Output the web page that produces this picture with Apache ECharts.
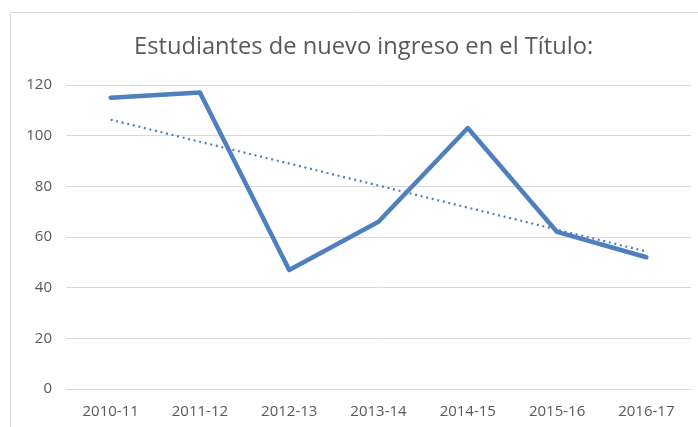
<!DOCTYPE html>
<html><head><meta charset="utf-8">
<script src="https://cdn.jsdelivr.net/npm/echarts@6/dist/echarts.min.js"></script>
<style>html,body{margin:0;padding:0;background:#fff}#c{width:698px;height:427px}</style>
</head><body><div id="c"></div>
<script>
const categories = ['2010-11','2011-12','2012-13','2013-14','2014-15','2015-16','2016-17'];
const values = [115, 117, 47, 66, 103, 62, 52];
const trend = [106.3, 97.6, 89.0, 80.3, 71.6, 62.9, 54.3];
const yTicks = [0, 20, 40, 60, 80, 100, 120];
const titleText = 'Estudiantes de nuevo ingreso en el Título:';

const chart = echarts.init(document.getElementById('c'), null, {renderer: 'canvas'});
chart.setOption({
  animation: false,
  backgroundColor: '#fff',
  title: {
    text: titleText, left: 129, top: 30,
    textStyle: {fontFamily: 'Open Sans', fontSize: 23.7, fontWeight: 'normal', color: '#595959'}
  },
  graphic: [{
    type: 'rect', silent: true,
    shape: {x: 10.5, y: 12.5, width: 700, height: 430},
    style: {fill: null, stroke: '#d9d9d9', lineWidth: 1}
  }],
  grid: {left: 66, right: 7, top: 85, bottom: 38, containLabel: false},
  xAxis: {
    type: 'category', data: categories, boundaryGap: true,
    axisLine: {show: true, lineStyle: {color: '#d9d9d9', width: 1}},
    axisTick: {show: false},
    axisLabel: {color: '#595959', fontFamily: 'Open Sans', fontSize: 15, margin: 15}
  },
  yAxis: {
    type: 'value', min: yTicks[0], max: yTicks[yTicks.length-1], interval: 20,
    axisLine: {show: false}, axisTick: {show: false},
    splitLine: {lineStyle: {color: '#d9d9d9', width: 1}},
    axisLabel: {color: '#595959', fontFamily: 'Open Sans', fontSize: 15, margin: 14}
  },
  series: [
    {type: 'line', data: values, symbol: 'none', lineStyle: {color: '#4F7FBE', width: 4.5, cap: 'round', join: 'round'}, z: 3},
    {type: 'line', data: trend, symbol: 'none', lineStyle: {color: '#4F7FBE', width: 2.2, type: [2, 3.7]}, z: 2}
  ]
});
</script></body></html>
